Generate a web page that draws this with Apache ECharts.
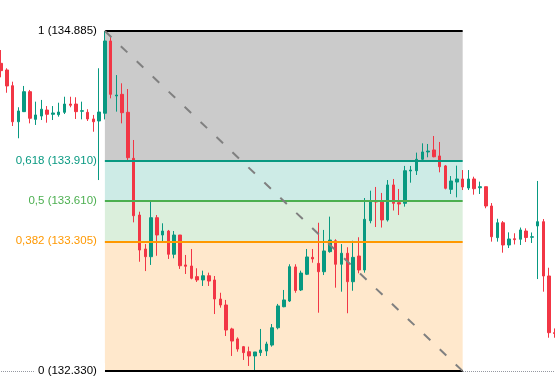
<!DOCTYPE html>
<html><head><meta charset="utf-8">
<script src="https://cdn.jsdelivr.net/npm/echarts@6/dist/echarts.min.js"></script>
<style>html,body{margin:0;padding:0;background:#fff}#c{width:555px;height:385px}</style>
</head><body><div id="c"></div>
<script>
const opens = [134.642,134.592,134.474,134.203,134.279,134.429,134.221,134.246,134.291,134.259,
134.256,134.274,134.336,134.336,134.282,134.274,134.224,134.209,134.267,134.810,
134.397,134.409,134.274,133.928,133.502,133.247,133.189,133.482,133.352,133.382,
133.207,133.352,133.127,133.119,133.039,133.014,133.046,133.014,132.871,132.826,
132.646,132.571,132.513,132.475,132.443,132.468,132.480,132.525,132.655,132.813,
132.856,133.112,132.939,133.057,133.184,133.139,133.076,133.227,133.309,133.132,
133.215,133.001,133.194,133.089,133.459,133.610,133.610,133.465,133.728,133.595,
133.590,133.833,133.835,133.921,133.976,133.991,133.946,133.871,133.695,133.750,
133.773,133.705,133.773,133.707,133.715,133.570,133.332,133.444,133.277,133.324,
133.320,133.382,133.335,133.420,133.452,133.044,132.618];
const closes = [134.587,134.472,134.203,134.284,134.429,134.229,134.254,134.297,134.259,134.269,
134.276,134.336,134.327,134.279,134.286,134.224,134.203,134.276,134.810,134.409,
134.404,134.271,133.933,133.497,133.239,133.189,133.482,133.352,133.382,133.207,
133.352,133.121,133.117,133.027,133.014,133.046,133.006,132.871,132.826,132.638,
132.555,132.495,132.468,132.443,132.473,132.488,132.533,132.655,132.819,132.864,
133.114,132.935,133.066,133.187,133.172,133.076,133.232,133.314,133.132,133.215,
133.001,133.184,133.089,133.470,133.611,133.600,133.465,133.728,133.590,133.585,
133.835,133.840,133.921,133.976,133.983,133.940,133.865,133.703,133.758,133.773,
133.713,133.773,133.700,133.715,133.570,133.339,133.444,133.277,133.322,133.317,
133.390,133.333,133.339,133.452,133.044,132.618,132.612];
const lows = [134.537,134.421,134.171,134.079,134.276,134.191,134.179,134.216,134.196,134.216,
134.241,134.261,134.312,134.224,134.221,134.209,134.128,133.765,134.221,134.379,
134.279,134.191,133.916,133.447,133.151,133.081,133.127,133.196,133.297,133.172,
133.177,133.097,133.059,133.019,132.999,132.969,132.969,132.758,132.806,132.593,
132.443,132.475,132.413,132.368,132.330,132.443,132.443,132.513,132.643,132.809,
132.849,132.918,132.931,133.051,133.144,132.768,133.051,133.219,132.956,132.926,
132.764,132.933,133.064,133.069,133.440,133.412,133.408,133.453,133.536,133.502,
133.565,133.745,133.803,133.916,133.936,133.936,133.823,133.695,133.660,133.635,
133.690,133.690,133.655,133.660,133.553,133.302,133.302,133.219,133.254,133.281,
133.277,133.299,133.292,133.021,132.926,132.580,132.580];
const highs = [134.742,134.605,134.504,134.312,134.472,134.442,134.354,134.367,134.321,134.321,
134.346,134.391,134.391,134.387,134.354,134.297,134.254,134.605,134.885,134.842,
134.554,134.492,134.449,134.066,133.527,133.284,133.615,133.502,133.440,133.390,
133.382,133.352,133.202,133.247,133.102,133.084,133.069,133.044,132.918,132.864,
132.655,132.583,132.518,132.513,132.473,132.646,132.550,132.683,132.834,132.939,
133.132,133.132,133.084,133.247,133.247,133.444,133.390,133.490,133.320,133.284,
133.260,133.309,133.335,133.630,133.685,133.713,133.668,133.765,133.773,133.698,
133.871,133.871,133.971,134.041,134.036,134.096,134.051,133.878,133.795,133.873,
133.840,133.840,133.790,133.753,133.715,133.592,133.474,133.457,133.372,133.365,
133.408,133.402,133.371,133.758,133.472,133.106,132.650];

const fibLevels = ['1', '0,618', '0,5', '0,382', '0'];
const fibPrices = [134.885, 133.910, 133.610, 133.305, 132.330];
const fibStartBar = 18, fibEndBar = 80;

const bars = opens.map((_, i) => String(i));
const ohlc = opens.map((o, i) => [o, closes[i], lows[i], highs[i]]);

const lineColors = ['#000000', '#089981', '#4CAF50', '#FF9800', '#000000'];
const fillColors = ['#CBCBCB', '#CDEBE6', '#DBEFDC', '#FFE8CC'];

const areaData = [];
for (let k = 0; k < fibPrices.length - 1; k++) {
  areaData.push([
    { coord: [fibStartBar, fibPrices[k]], itemStyle: { color: fillColors[k], opacity: 1 } },
    { coord: [fibEndBar, fibPrices[k + 1]] }
  ]);
}
const levelLines = fibPrices.map((p, k) => {
  const last = k === fibPrices.length - 1;
  return [
    { coord: [fibStartBar, p],
      lineStyle: { color: lineColors[k], width: 2, type: 'solid' },
      label: Object.assign({
        show: true, position: 'start', color: lineColors[k],
        formatter: fibLevels[k] + ' (' + p.toFixed(3) + ')',
        fontFamily: 'Liberation Sans, Arial, sans-serif', fontSize: 11.5
      }, last ? { backgroundColor: '#ffffff', padding: [2, 8, 2, 3], distance: 0 } : { distance: 8 })
    },
    { coord: [fibEndBar, p] }
  ];
});
levelLines.push([
  { coord: [fibStartBar, fibPrices[0]], lineStyle: { color: '#808080', width: 2, type: [9, 13] }, label: { show: false } },
  { coord: [fibEndBar, fibPrices[fibPrices.length - 1]] }
]);

const chart = echarts.init(document.getElementById('c'), null, { renderer: 'canvas' });
chart.setOption({
  animation: false,
  backgroundColor: '#ffffff',
  grid: { left: 1, right: -1, top: 31, bottom: 14 },
  xAxis: { type: 'category', data: bars, boundaryGap: false, show: false },
  yAxis: { type: 'value', min: fibPrices[fibPrices.length - 1], max: fibPrices[0], show: false, scale: true },
  series: [
    {
      type: 'line', data: [], z: 1, silent: true,
      markArea: { silent: true, data: areaData },
      markLine: {
        silent: true, symbol: ['none', 'none'],
        lineStyle: { color: '#9598A1', width: 1, type: 'dotted' },
        label: { show: false },
        data: [{ yAxis: fibPrices[fibPrices.length - 1] }]
      }
    },
    {
      type: 'candlestick', data: ohlc, z: 2, clip: false, barWidth: 3,
      itemStyle: {
        color: '#089981', color0: '#F23645',
        borderColor: '#089981', borderColor0: '#F23645', borderColorDoji: '#F23645',
        borderWidth: 1
      }
    },
    {
      type: 'line', data: [], z: 3, silent: true,
      markLine: { silent: true, symbol: ['none', 'none'], animation: false, data: levelLines }
    }
  ]
});
</script></body></html>
